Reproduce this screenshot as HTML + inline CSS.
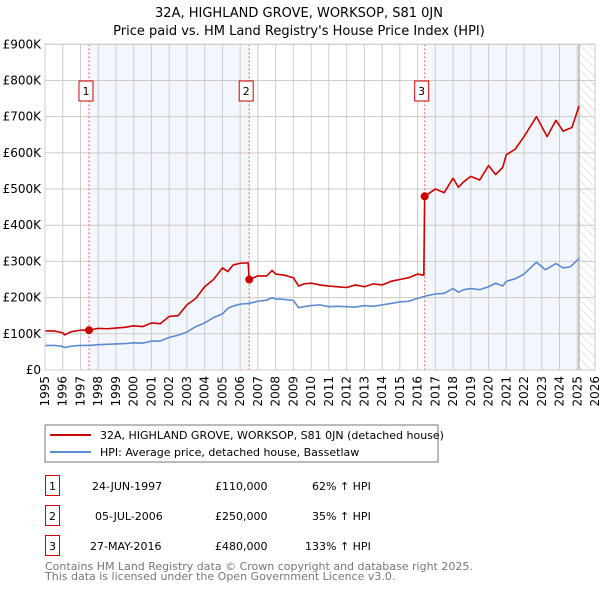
<!DOCTYPE html>
<html><head><meta charset="utf-8"><style>
body{margin:0;background:#fff;width:600px;height:590px;overflow:hidden;font-family:"DejaVu Sans","Liberation Sans",sans-serif;}
svg text{font-family:"DejaVu Sans","Liberation Sans",sans-serif;}
</style></head><body>
<svg id="chart" width="600" height="590" xmlns="http://www.w3.org/2000/svg">
<defs><pattern id="hatch" width="6" height="6" patternUnits="userSpaceOnUse" patternTransform="rotate(-45)"><line x1="0" y1="0" x2="0" y2="6" stroke="#ccc" stroke-width="1"/></pattern></defs>
<text x="299" y="17" font-size="13" text-anchor="middle" fill="#000">32A, HIGHLAND GROVE, WORKSOP, S81 0JN</text>
<text x="299" y="35" font-size="13" text-anchor="middle" fill="#000">Price paid vs. HM Land Registry's House Price Index (HPI)</text>
<g id="plot"></g>
<rect x="45" y="425" width="393" height="37" fill="#fff" stroke="#777"/>
<line x1="50" y1="435" x2="91" y2="435" stroke="#cc0000" stroke-width="2"/>
<text x="100" y="439" font-size="11">32A, HIGHLAND GROVE, WORKSOP, S81 0JN (detached house)</text>
<line x1="50" y1="452" x2="91" y2="452" stroke="#5b8bd0" stroke-width="2"/>
<text x="100" y="456" font-size="11">HPI: Average price, detached house, Bassetlaw</text>
<g font-size="11" fill="#000">
<rect x="45.5" y="475.5" width="14" height="20" fill="none" stroke="#cc0000"/><text x="52.5" y="490" text-anchor="middle">1</text>
<text x="92" y="490">24-JUN-1997</text><text x="215" y="490">£110,000</text><text x="312" y="490">62% ↑ HPI</text>
<rect x="45.5" y="505.5" width="14" height="20" fill="none" stroke="#cc0000"/><text x="52.5" y="520" text-anchor="middle">2</text>
<text x="95" y="520">05-JUL-2006</text><text x="215" y="520">£250,000</text><text x="312" y="520">35% ↑ HPI</text>
<rect x="45.5" y="535.5" width="14" height="20" fill="none" stroke="#cc0000"/><text x="52.5" y="550" text-anchor="middle">3</text>
<text x="90" y="550">27-MAY-2016</text><text x="215" y="550">£480,000</text><text x="305" y="550">133% ↑ HPI</text>
</g>
<text x="45" y="570" font-size="11" fill="#777">Contains HM Land Registry data © Crown copyright and database right 2025.</text>
<text x="45" y="580" font-size="11" fill="#777">This data is licensed under the Open Government Licence v3.0.</text>
</svg>
<script>
const yTicks=[0,100,200,300,400,500,600,700,800,900];
const yTickLabels=["£0","£100K","£200K","£300K","£400K","£500K","£600K","£700K","£800K","£900K"];
const xYears=[1995,1996,1997,1998,1999,2000,2001,2002,2003,2004,2005,2006,2007,2008,2009,2010,2011,2012,2013,2014,2015,2016,2017,2018,2019,2020,2021,2022,2023,2024,2025,2026];
const saleDates=[1997.48,2006.51,2016.4];
const salePrices=[110,250,480];
const saleLabels=["1","2","3"];
const hpiT=[1995,1995.5,1996,1996.1,1996.5,1997,1997.5,1998,1998.5,1999,1999.5,2000,2000.5,2001,2001.5,2002,2002.5,2003,2003.5,2004,2004.5,2005,2005.3,2005.5,2006,2006.5,2007,2007.5,2007.8,2008,2008.5,2009,2009.3,2009.6,2010,2010.5,2011,2011.5,2012,2012.5,2013,2013.5,2014,2014.5,2015,2015.5,2016,2016.5,2017,2017.5,2018,2018.3,2018.6,2019,2019.5,2020,2020.4,2020.8,2021,2021.5,2022,2022.7,2023.2,2023.8,2024.2,2024.6,2025.1];
const hpiV=[68,68,65,62,66,68,68,70,71,72,73,75,74,80,80,90,96,105,120,130,145,155,170,175,182,184,190,193,200,196,195,192,172,175,178,180,175,176,175,174,178,176,180,184,188,190,198,205,210,212,225,215,222,225,222,230,240,232,245,252,265,298,277,294,282,285,308];
const priceT=[1995,1995.5,1996,1996.1,1996.5,1997,1997.48,1998,1998.5,1999,1999.5,2000,2000.5,2001,2001.5,2002,2002.5,2003,2003.5,2004,2004.5,2005,2005.3,2005.6,2006,2006.45,2006.51,2007,2007.5,2007.8,2008,2008.5,2009,2009.3,2009.6,2010,2010.5,2011,2011.5,2012,2012.5,2013,2013.5,2014,2014.5,2015,2015.5,2016,2016.35,2016.4,2017,2017.5,2018,2018.3,2018.6,2019,2019.5,2020,2020.4,2020.8,2021,2021.5,2022,2022.7,2023.3,2023.8,2024.2,2024.7,2025.1];
const priceV=[108,108,103,97,106,110,110,115,114,116,118,122,120,130,128,148,150,180,198,230,250,282,272,290,295,296,250,260,260,275,265,262,255,232,238,240,235,232,230,228,235,230,238,235,245,250,255,265,262,480,500,490,530,505,520,535,525,565,540,560,595,610,645,700,645,690,660,670,730];
const L=45,R=595,T=44.3,B=370;
const xs=t=>L+(t-1995)*(R-L)/31;
const ys=v=>B-v*(B-T)/900;
const NS="http://www.w3.org/2000/svg";
const g=document.getElementById('plot');
function mk(tag,attrs,parent){const e=document.createElementNS(NS,tag);for(const k in attrs)e.setAttribute(k,attrs[k]);(parent||g).appendChild(e);return e;}
let r=mk('rect',{x:xs(saleDates[0]),y:T,width:xs(saleDates[1])-xs(saleDates[0]),height:B-T,fill:'#eef3fc',opacity:0.7});


r=mk('rect',{x:xs(saleDates[2]),y:T,width:xs(2025.1)-xs(saleDates[2]),height:B-T,fill:'#eef3fc',opacity:0.7});


r=mk('rect',{x:xs(2025.1),y:T,width:R-xs(2025.1),height:B-T,fill:'url(#hatch)'});


yTicks.forEach((v,i)=>{
 const l=mk('line',{x1:L,x2:R,y1:ys(v),y2:ys(v),stroke:'#ccc','stroke-width':1});
 
 
 const t=mk('text',{x:L-4,y:ys(v)+4,'font-size':12,'text-anchor':'end',fill:'#000'});
 t.textContent=yTickLabels[i];
 
 
});
xYears.forEach(y=>{
 const l=mk('line',{x1:xs(y),x2:xs(y),y1:T,y2:B,stroke:'#ccc','stroke-width':1});
 
 
 const t=mk('text',{x:0,y:0,'font-size':12,'text-anchor':'end',fill:'#000',transform:`translate(${xs(y)+4},${B+6}) rotate(-90)`});
 t.textContent=y;
 
 
});
r=mk('line',{x1:xs(2025.1),x2:xs(2025.1),y1:T,y2:B,stroke:'#999','stroke-width':1});


saleDates.forEach((d,i)=>{
 const l=mk('line',{x1:xs(d),x2:xs(d),y1:T,y2:B,stroke:'#e66','stroke-width':1,'stroke-dasharray':'2,2'});
 
 
 const b=mk('rect',{x:xs(d)-10,y:81,width:14,height:20,fill:'#fff',stroke:'#cc0000'});
 
 
 const t=mk('text',{x:xs(d)-3,y:95,'font-size':11,'text-anchor':'middle'});
 t.textContent=saleLabels[i];
 
 
});
function line(T_,V,color,name){
 const p=mk('polyline',{points:T_.map((t,i)=>xs(t)+','+ys(V[i])).join(' '),fill:'none',stroke:color,'stroke-width':1.6,'stroke-linejoin':'round'});
 
 
}
line(hpiT,hpiV,'#5b8bd0','hpi-line');
line(priceT,priceV,'#cc0000','price-line');
saleDates.forEach((d,i)=>{
 const c=mk('circle',{cx:xs(d),cy:ys(salePrices[i]),r:4,fill:'#cc0000'});
 
 
});
r=mk('rect',{x:L,y:T,width:R-L,height:B-T,fill:'none',stroke:'#ccc'});


</script>
</body></html>
